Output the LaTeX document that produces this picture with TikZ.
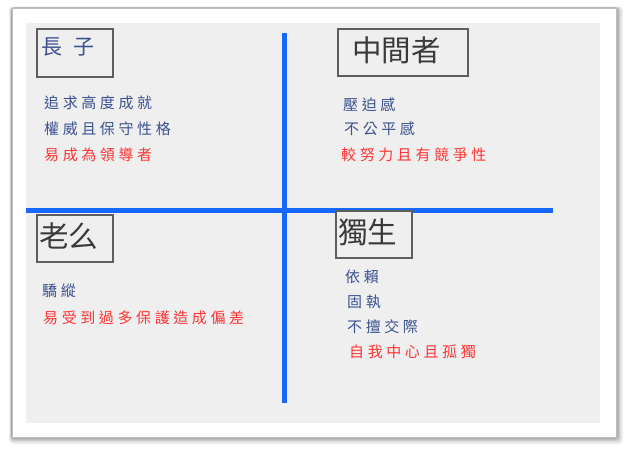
\documentclass[tikz,border=0pt]{standalone}
\usepackage{fontspec}
\setmainfont{Noto Sans CJK TC}
\newfontfamily\cjkbody[LetterSpace=24]{Noto Sans CJK TC}
\newfontfamily\cjkhead{Noto Sans CJK TC}
\definecolor{bgfill}{HTML}{EFEFEF}
\definecolor{axisblue}{RGB}{22,104,250}
\definecolor{inkblue}{HTML}{3B5190}
\definecolor{inkred}{HTML}{FF3535}
\definecolor{boxgray}{HTML}{5E5E5E}
\definecolor{headgray}{HTML}{3A3A3A}
\begin{document}
\begin{tikzpicture}[x=1pt,y=-1pt,
  hbox/.style={draw=boxgray,line width=2pt,fill=bgfill,inner sep=0pt,anchor=north west},
  htext/.style={font=\cjkhead\fontsize{29.5}{30}\selectfont,text=headgray,inner sep=0pt,anchor=west},
  bline/.style={font=\cjkbody\fontsize{15}{15}\selectfont,inner sep=0pt,anchor=west},
  blue/.style={bline,text=inkblue},
  red/.style={bline,text=inkred},
  axis/.style={draw=axisblue,line width=5pt}]
\useasboundingbox (0,0) rectangle (626,452);
\fill[white] (0,0) rectangle (626,452);
% shadow of the frame
\foreach \d/\o in {7/0.05,5.5/0.07,4/0.09,2.5/0.12,1.2/0.15}{
  \fill[black,opacity=\o,rounded corners=3pt] (12-\d*0.4,8-\d*0.2) rectangle (616+\d,437+\d);
}
\fill[white] (12,8) rectangle (616,437);
\draw[black!25,line width=0.6pt] (12,8) rectangle (616,437);
\fill[bgfill] (26,23) rectangle (600,423);
% axes
\coordinate (vtop) at (284,33);
\coordinate (vbot) at (284,403);
\coordinate (hl) at (26,210);
\coordinate (hr) at (553,210);
\draw[axis] (vtop) -- (vbot);
\draw[axis] (hl) -- (hr);
% header boxes
\node[hbox,minimum width=76pt,minimum height=48pt] (b1) at (36,28) {};
\node[inner sep=0pt,anchor=west,text=inkblue,font=\cjkhead\fontsize{21}{21}\selectfont] (t1) at (41,47) {長\hspace{11pt}子};
\node[hbox,minimum width=130pt,minimum height=47pt] (b2) at (337,28) {};
\node[htext] (t2) at (352,50) {中間者};
\node[hbox,minimum width=76pt,minimum height=47pt] (b3) at (36,214) {};
\node[htext] (t3) at (39,236) {老么};
\node[hbox,minimum width=76pt,minimum height=47pt] (b4) at (335,210) {};
\node[htext] (t4) at (338,232) {獨生};
% top-left
\node[blue] (a1) at (44,103) {追求高度成就};
\node[blue] (a2) at (44,129) {權威且保守性格};
\node[red]  (a3) at (44,155) {易成為領導者};
% top-right
\node[blue] (c1) at (343,105) {壓迫感};
\node[blue] (c2) at (344,129) {不公平感};
\node[red]  (c3) at (341,155) {較努力且有競爭性};
% bottom-left
\node[blue] (d1) at (42,291) {驕縱};
\node[red]  (d2) at (43,318) {易受到過多保護造成偏差};
% bottom-right
\node[blue] (e1) at (345,277) {依賴};
\node[blue] (e2) at (347,302) {固執};
\node[blue] (e3) at (347,327) {不擅交際};
\node[red]  (e4) at (349,352) {自我中心且孤獨};
\end{tikzpicture}
\end{document}
